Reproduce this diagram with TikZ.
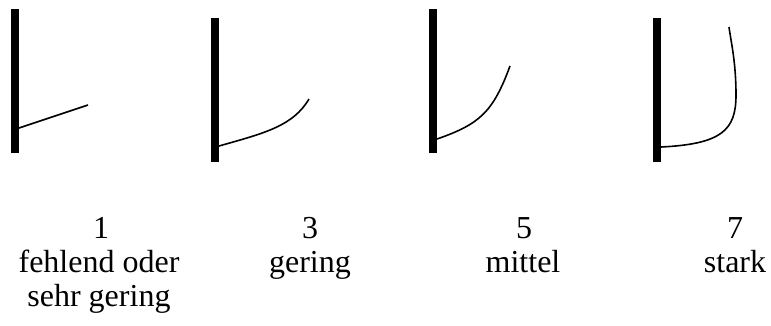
\documentclass[tikz,border=0pt]{standalone}
\usepackage{fontspec}
\setmainfont{Liberation Serif}
\tikzset{
  bar/.style={line width=8pt},
  curve/.style={line width=1.6pt},
  label/.style={anchor=base, align=center, inner sep=0pt, font=\fontsize{32}{34}\selectfont}
}
\begin{document}
\begin{tikzpicture}[x=1pt,y=-1pt]
  \useasboundingbox (0,0) rectangle (771,325);

  % Panel 1
  \coordinate (B1) at (15,9);
  \coordinate (C1) at (15,153);
  \draw[bar] (B1) -- (C1);
  \draw[curve] (19,128) -- (88,105);

  % Panel 2
  \coordinate (B2) at (215,18);
  \coordinate (C2) at (215,162);
  \draw[bar] (B2) -- (C2);
  \draw[curve] (219,146) .. controls (265,133) and (293,126) .. (309,99);

  % Panel 3
  \coordinate (B3) at (433,9);
  \coordinate (C3) at (433,153);
  \draw[bar] (B3) -- (C3);
  \draw[curve] (437,139) .. controls (480,124) and (493,112) .. (510,66);

  % Panel 4
  \coordinate (B4) at (657,18);
  \coordinate (C4) at (657,162);
  \draw[bar] (B4) -- (C4);
  \draw[curve] (661,147) .. controls (722,144) and (736,130) .. (736,95)
               .. controls (736,62) and (731,42) .. (729,27);

  % Labels (base of a two-line node is its last line)
  \node[label] (n1) at (101,238) {1};
  \node[label] (n3) at (310,238) {3};
  \node[label] (n5) at (524,238) {5};
  \node[label] (n7) at (735,238) {7};
  \node[label] (t1) at (99,306) {fehlend oder\\sehr gering};
  \node[label] (t3) at (310,272) {gering};
  \node[label] (t5) at (523,272) {mittel};
  \node[label] (t7) at (735,272) {stark};
\end{tikzpicture}
\end{document}
